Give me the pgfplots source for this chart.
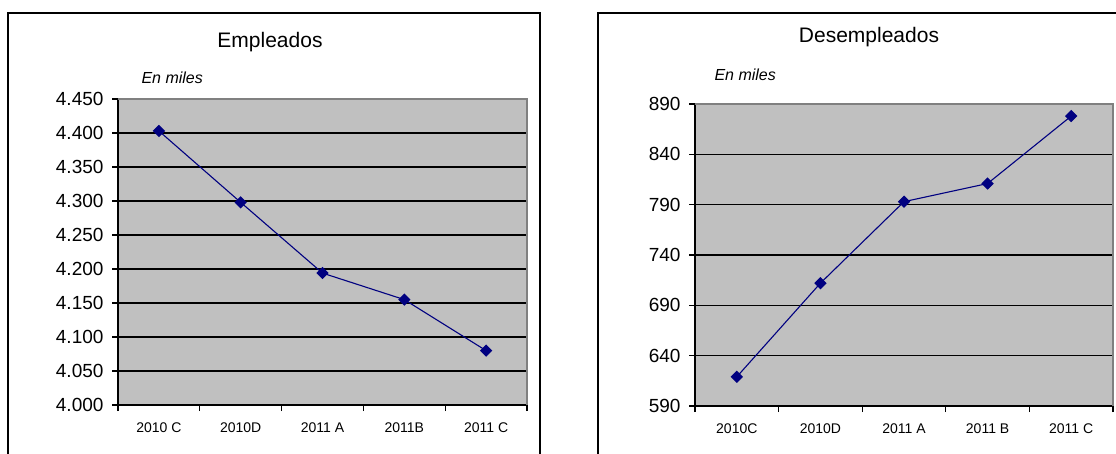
\documentclass[border=0pt]{standalone}
\usepackage{fontspec}
\setmainfont{Liberation Sans}
\usepackage{pgfplots}
\pgfplotsset{compat=1.18}

\definecolor{fondo}{HTML}{C0C0C0}
\definecolor{borde}{HTML}{808080}
\definecolor{serie}{HTML}{000080}

\pgfplotsset{
  hoja/.style={
    scale only axis,
    anchor=south west,
    axis background/.style={fill=fondo},
    axis x line*=bottom,
    axis y line*=left,
    axis line style={black, line width=1.2pt},
    xmin=-0.5, xmax=4.5,
    % tick marks between the categories, names at the centres
    xtick={-0.5,0.5,...,4.5},
    xticklabel={\mbox{}},
    extra x ticks={0,1,2,3,4},
    extra x tick style={major tick length=0pt},
    x tick label style={font=\fontsize{14}{16}\selectfont, yshift=-14pt},
    y tick label style={font=\fontsize{19}{21}\selectfont, xshift=-5pt},
    /pgf/number format/assume math mode=true,
    /pgf/number format/1000 sep={.},
    scaled y ticks=false,
    tick align=outside,
    major tick length=6pt,
    tick style={black, line width=1.2pt},
    ymajorgrids,
    grid style={black, line width=1.2pt},
    after end axis/.code={
      \draw[borde, line width=1.2pt] (rel axis cs:0,1) -- (rel axis cs:1,1) -- (rel axis cs:1,0);
    },
  },
  linea/.style={serie, line width=1.1pt, mark=square*, mark size=3.8pt,
    mark options={rotate=45, solid, fill=serie}},
}

\begin{document}
\begin{tikzpicture}
\useasboundingbox (0,0) rectangle (1116pt,-453pt);

% frames of the two charts (cut off by the page edge)
\draw[black, line width=1.2pt] (8pt,-470pt) -- (8pt,-13pt) -- (540pt,-13pt) -- (540pt,-470pt);
\draw[black, line width=1.2pt] (598pt,-470pt) -- (598pt,-13pt) -- (1130pt,-13pt);

\node[font=\fontsize{21}{24}\selectfont] at (270pt,-42pt) {Empleados};
\node[font=\fontsize{16}{18}\selectfont\itshape, anchor=west] at (138pt,-78pt) {En miles};
\node[font=\fontsize{21}{24}\selectfont] at (869pt,-37pt) {Desempleados};
\node[font=\fontsize{16}{18}\selectfont\itshape, anchor=west] at (711pt,-75pt) {En miles};

\begin{axis}[hoja,
  at={(118pt,-405pt)}, width=409pt, height=306pt,
  ymin=4000, ymax=4450, ytick={4000,4050,...,4450},
  extra x tick labels={2010 C,2010D,2011 A,2011B,2011 C},
]
\addplot[linea] coordinates {(0,4403) (1,4298) (2,4194) (3,4155) (4,4080)};
\end{axis}

\begin{axis}[hoja,
  at={(695pt,-406pt)}, width=418pt, height=302pt,
  ymin=590, ymax=890, ytick={590,640,...,890},
  extra x tick labels={2010C,2010D,2011 A,2011 B,2011 C},
]
\addplot[linea] coordinates {(0,619) (1,712) (2,793) (3,811) (4,878)};
\end{axis}
\end{tikzpicture}
\end{document}
